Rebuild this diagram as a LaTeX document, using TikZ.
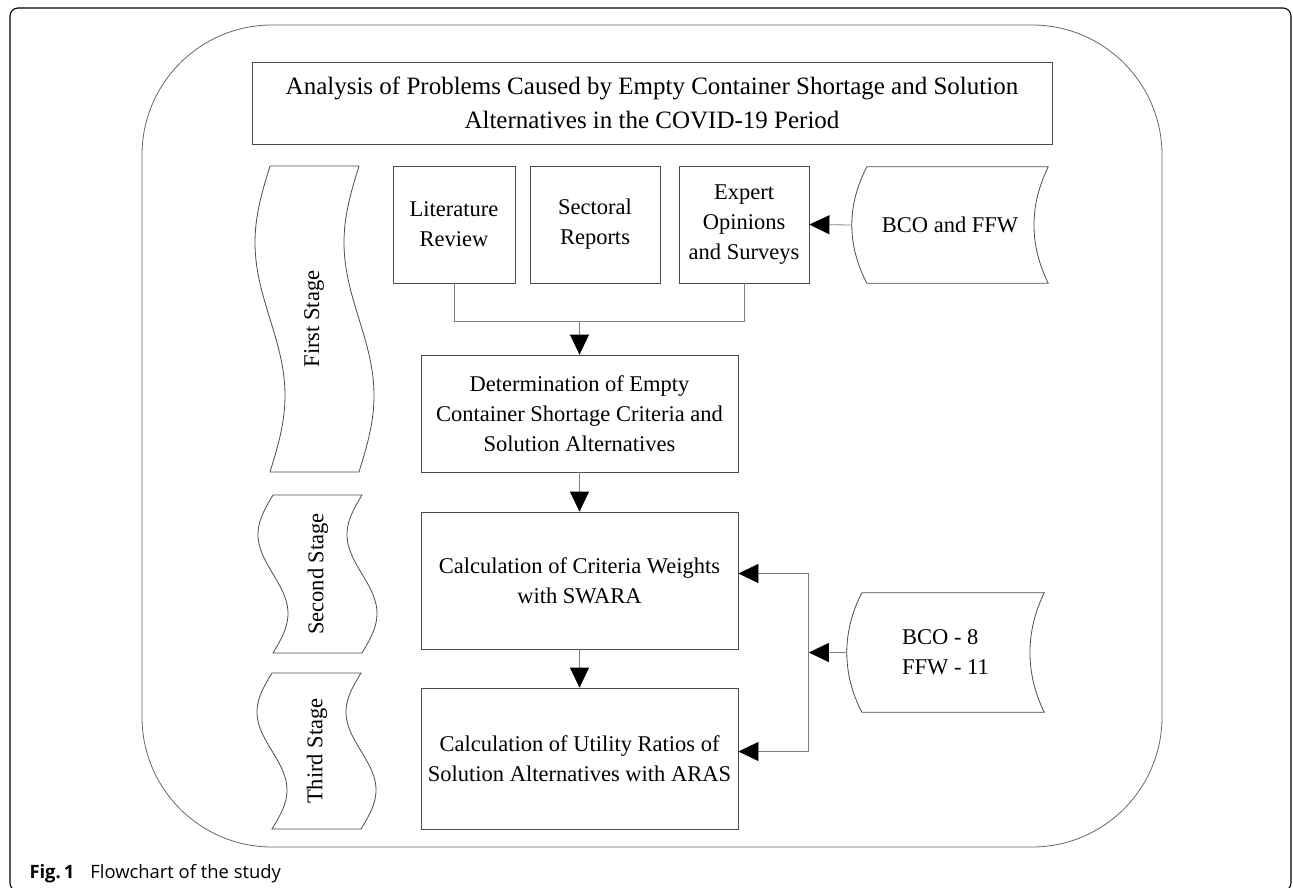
\documentclass[tikz,border=0pt]{standalone}
\usepackage{fontspec}
\setmainfont{Liberation Serif}
\newfontfamily\capfont{Open Sans}
\usetikzlibrary{arrows.meta, positioning}

\tikzset{
    shapeline/.style={draw=black!70, line width=0.8pt},
    procbox/.style={shapeline, align=center, inner sep=0pt},
    flow/.style={draw=black!50, line width=0.8pt},
    arr/.style={flow, -{Triangle[length=20pt,width=19pt,color=black]}},
}

% stored data shape drawn round a node
\newcommand{\storeddata}[1]{%
    \draw[shapeline] ([xshift=15pt]#1.north west) -- (#1.north east)
        .. controls ([xshift=-19pt,yshift=-39pt]#1.north east) and ([xshift=-19pt,yshift=39pt]#1.south east) .. (#1.south east)
        -- ([xshift=15pt]#1.south west)
        .. controls ([xshift=-5pt,yshift=39pt]#1.south west) and ([xshift=-5pt,yshift=-39pt]#1.north west) .. cycle;
}
% wavy stage tape: left x, top y, height
\newcommand{\stagetape}[3]{%
    \draw[shapeline] plot[domain=0:360, samples=60] ({#1-15*sin(\x)},{#2+\x/360*#3})
        -- plot[domain=360:0, samples=60] ({#1+89-15*sin(\x)},{#2+\x/360*#3}) -- cycle;
}

\begin{document}
\begin{tikzpicture}[x=1pt, y=-1pt, font=\fontsize{22.5}{30}\selectfont]
    \useasboundingbox (0,0) rectangle (1293,887);

    % frames
    \draw[black, line width=1.1pt, rounded corners=8pt] (10,8) rectangle (1291,891);
    \draw[black!60, line width=0.8pt, rounded corners=130pt] (142,25) rectangle (1162,847);

    \node[procbox, minimum width=800pt, minimum height=82pt, font=\fontsize{25}{34}\selectfont] (title) at (652,103)
        {Analysis of Problems Caused by Empty Container Shortage and Solution\\Alternatives in the COVID-19 Period};

    % stages
    \stagetape{270}{166}{306}
    \stagetape{273}{495}{158}
    \stagetape{272}{673}{156}
    \node[rotate=90] (first) at (314,319) {First Stage};
    \node[rotate=90] (second) at (318,574) {Second Stage};
    \node[rotate=90] (third) at (317,751) {Third Stage};

    % sources
    \node[procbox, minimum width=122pt, minimum height=117pt] (lit) at (454,224.5) {Literature\\Review};
    \node[procbox, minimum width=130pt, minimum height=117pt] (sect) at (595,224.5) {Sectoral\\Reports};
    \node[procbox, minimum width=130pt, minimum height=117pt] (expert) at (744,224.5) {Expert\\Opinions\\and Surveys};
    \node[minimum width=196pt, minimum height=116pt, inner sep=0pt] (bcoffw) at (950,225) {BCO and FFW};
    \storeddata{bcoffw}

    % method steps
    \node[procbox, minimum width=317pt, minimum height=117pt] (det) at (579.5,413.5)
        {Determination of Empty\\Container Shortage Criteria and\\Solution Alternatives};
    \node[procbox, minimum width=317pt, minimum height=137pt] (swara) at (579.5,580.5)
        {Calculation of Criteria Weights\\with SWARA};
    \node[procbox, minimum width=317pt, minimum height=141pt] (aras) at (579.5,758.5)
        {Calculation of Utility Ratios of\\Solution Alternatives with ARAS};
    \node[minimum width=197pt, minimum height=119pt, inner sep=0pt, align=left] (panel) at (945.5,652.5)
        {BCO - 8\\FFW - 11};
    \storeddata{panel}

    % connectors
    \draw[flow] (lit.south) -- ++(0,38) -| (expert.south);
    \path (det.north) ++(0,-34) coordinate (join);
    \draw[arr] (join) -- (det.north);
    \draw[arr] (det.south) -- (swara.north);
    \draw[arr] (swara.south) -- (aras.north);
    \draw[arr] (bcoffw.west) -- (expert.east);
    \path (panel.west) ++(-38,0) coordinate (bus);
    \draw[arr] (panel.west) -- (bus);
    \draw[arr] (bus) |- ([yshift=7pt]swara.east);
    \draw[arr] (bus) |- ([yshift=7pt]aras.east);

    \node[anchor=base west, font=\capfont\fontsize{18.4}{20}\selectfont] (caption) at (26,878)
        {\textbf{Fig.\,1}\hspace{16pt}Flowchart of the study};
\end{tikzpicture}
\end{document}
